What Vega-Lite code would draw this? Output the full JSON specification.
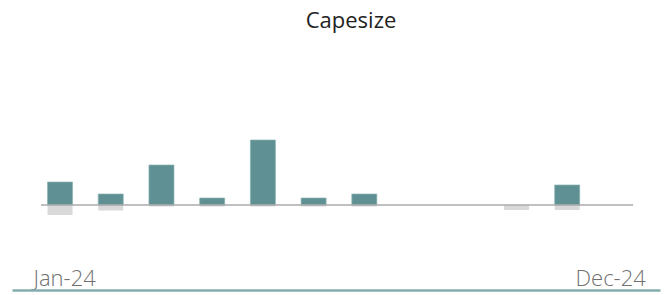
{
  "$schema": "https://vega.github.io/schema/vega-lite/v6.json",
  "width": 648,
  "height": 250,
  "autosize": {"type": "none"},
  "padding": {"left": 12, "top": 40, "right": 12, "bottom": 5},
  "background": "white",
  "title": {"text": "Capesize", "anchor": "middle", "fontSize": 22, "font": "Open Sans", "fontWeight": "normal", "color": "#222222", "offset": 7, "dx": 15},
  "config": {"view": {"stroke": null}},
  "datasets": {
    "months": [
      {"month": 1, "name": "Jan-24", "pos": 23, "neg": -10},
      {"month": 2, "name": "Feb-24", "pos": 11, "neg": -5.5},
      {"month": 3, "name": "Mar-24", "pos": 40, "neg": -1.5},
      {"month": 4, "name": "Apr-24", "pos": 7, "neg": -1.5},
      {"month": 5, "name": "May-24", "pos": 65, "neg": -1.5},
      {"month": 6, "name": "Jun-24", "pos": 7, "neg": -1.5},
      {"month": 7, "name": "Jul-24", "pos": 11, "neg": -1.5},
      {"month": 8, "name": "Aug-24", "pos": null, "neg": null},
      {"month": 9, "name": "Sep-24", "pos": null, "neg": null},
      {"month": 10, "name": "Oct-24", "pos": null, "neg": -5},
      {"month": 11, "name": "Nov-24", "pos": 20, "neg": -5},
      {"month": 12, "name": "Dec-24", "pos": null, "neg": null}
    ],
    "zero": [{"start": 0.625, "end": 12.3, "y": 0}]
  },
  "layer": [
    {
      "data": {"name": "months"},
      "mark": {"type": "bar", "size": 25, "color": "#d9d9d9"},
      "encoding": {
        "x": {"field": "month", "type": "quantitative",
              "scale": {"domain": [0.053, 12.83], "nice": false, "zero": false, "padding": 0},
              "axis": {"values": [0.467, 12.54], "grid": false, "ticks": false, "tickSize": 0,
                       "labelExpr": "datum.value < 6 ? 'Jan-24' : 'Dec-24'",
                       "labelAlign": {"expr": "datum.value < 6 ? 'left' : 'right'"},
                       "labelBaseline": "alphabetic", "labelPadding": -5,
                       "labelFont": "Open Sans", "labelFontWeight": 300, "labelFontSize": 22, "labelColor": "#707070",
                       "domainColor": "#86adad", "domainWidth": 2.5, "title": null}},
        "y": {"field": "neg", "type": "quantitative",
              "scale": {"domain": [-85, 165], "nice": false},
              "axis": null}
      }
    },
    {
      "data": {"name": "months"},
      "mark": {"type": "bar", "size": 25, "color": "#5f9194", "stroke": "#8db2b3", "strokeWidth": 0.7},
      "encoding": {
        "x": {"field": "month", "type": "quantitative"},
        "y": {"field": "pos", "type": "quantitative"}
      }
    },
    {
      "data": {"name": "zero"},
      "mark": {"type": "rule", "color": "#ababab", "strokeWidth": 1.5},
      "encoding": {
        "x": {"field": "start", "type": "quantitative"},
        "x2": {"field": "end"},
        "y": {"field": "y", "type": "quantitative"}
      }
    }
  ]
}
